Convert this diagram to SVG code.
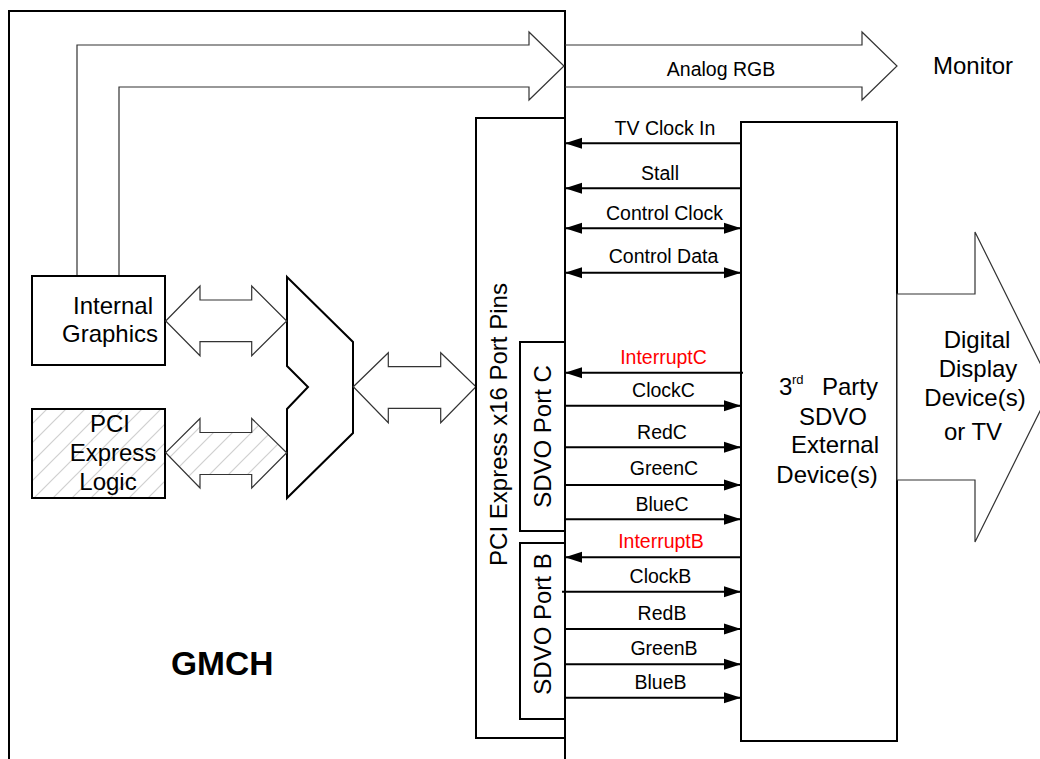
<svg xmlns="http://www.w3.org/2000/svg" width="1040" height="759" viewBox="0 0 1040 759">
<style>
text{font-family:"Liberation Sans",Arial,sans-serif;fill:#000}
.lbl{font-size:19.5px;text-anchor:middle}
.big{font-size:24px}
.red{fill:#ff0000}
.box{fill:#fff;stroke:#000;stroke-width:2}
.hollow{fill:#fff;stroke:#333;stroke-width:1.2}
.open{fill:none;stroke:#333;stroke-width:1.2}
.sig{stroke:#000;stroke-width:2;fill:none}
</style>
<defs>
<marker id="ah" markerUnits="userSpaceOnUse" markerWidth="17" markerHeight="12" refX="17" refY="6" orient="auto-start-reverse" viewBox="0 0 17 12">
<path d="M0,0.5 L17,6 L0,11.5 z" fill="#000"/>
</marker>
<pattern id="hatch" patternUnits="userSpaceOnUse" width="19" height="19">
<rect width="19" height="19" fill="#fff"/>
<path d="M-1,20 L20,-1 M-5,5 L5,-5 M14,24 L24,14" stroke="#d0d0d0" stroke-width="1.2"/>
</pattern>
</defs>

<g id="gmch">
<rect x="9" y="11" width="556" height="770" fill="#fff" stroke="#000" stroke-width="2"/>
<text x="171" y="675" font-size="33.5" font-weight="bold">GMCH</text>
</g>

<g id="analog-rgb">
<path class="open" d="M77,277 V45 H529 V32 L564,66 L529,100 V87 H119 V277"/>
<path class="open" d="M565,45 H862 V32 L897,66 L862,100 V87 H565"/>
<text class="lbl" x="721" y="76">Analog RGB</text>
</g>

<g id="monitor">
<text class="big" x="933" y="74">Monitor</text>
</g>

<g id="internal-graphics">
<rect class="box" x="32" y="276" width="133" height="89"/>
<text class="big" x="73" y="314">Internal</text>
<text class="big" x="62" y="342">Graphics</text>
</g>

<g id="pci-express-logic">
<rect x="32" y="409" width="133" height="89" fill="url(#hatch)" stroke="#000" stroke-width="2"/>
<text class="big" x="110" y="432" text-anchor="middle">PCI</text>
<text class="big" x="113" y="461" text-anchor="middle">Express</text>
<text class="big" x="108" y="490" text-anchor="middle">Logic</text>
</g>

<g id="mux">
<path d="M287,277 L353,342 L353,433 L287,498 L287,409 L308,387 L287,366 Z" fill="#fff" stroke="#000" stroke-width="2"/>
</g>

<g id="bus-arrows">
<polygon class="hollow" points="165.7,321 200,286 200,300 251.7,300 251.7,286 286.7,321 251.7,355.7 251.7,341.7 200,341.7 200,355.7"/>
<polygon points="165.7,452.7 200,418.5 200,432.5 251.7,432.5 251.7,418.5 286.7,452.7 251.7,488 251.7,474.5 200,474.5 200,488" fill="url(#hatch)" stroke="#333" stroke-width="1.2"/>
<polygon class="hollow" points="353.3,386.7 388.3,352.7 388.3,366.7 440.7,366.7 440.7,352.7 476,386.7 440.7,422.7 440.7,408.3 388.3,408.3 388.3,422.7"/>
</g>

<g id="pci-port-pins">
<rect class="box" x="476" y="118" width="89" height="620"/>
<text class="big" transform="translate(507,424.5) rotate(-90)" text-anchor="middle">PCI Express x16 Port Pins</text>
</g>

<g id="sdvo-port-c">
<rect class="box" x="520" y="342" width="45" height="189"/>
<text class="big" transform="translate(551,436.5) rotate(-90)" text-anchor="middle">SDVO Port C</text>
</g>

<g id="sdvo-port-b">
<rect class="box" x="520" y="543" width="45" height="176"/>
<text class="big" transform="translate(551,624) rotate(-90)" text-anchor="middle">SDVO Port B</text>
</g>

<g id="sdvo-device">
<rect class="box" x="741" y="122" width="156" height="619"/>
<text class="big" x="779" y="395">3</text>
<text x="792" y="384" font-size="13">rd</text>
<text class="big" x="822" y="395">Party</text>
<text class="big" x="833" y="425" text-anchor="middle">SDVO</text>
<text class="big" x="835" y="453" text-anchor="middle">External</text>
<text class="big" x="827" y="483" text-anchor="middle">Device(s)</text>
</g>

<g id="digital-display">
<polygon class="hollow" points="897,294 975,294 975,232 1052,387 975,542 975,480 897,480"/>
<text class="big" x="977" y="348" text-anchor="middle">Digital</text>
<text class="big" x="978" y="377" text-anchor="middle">Display</text>
<text class="big" x="975" y="406" text-anchor="middle">Device(s)</text>
<text class="big" x="973" y="440" text-anchor="middle">or TV</text>
</g>

<g id="connectors">
<path class="sig" d="M741,143.3 H565" marker-end="url(#ah)"/>
<path class="sig" d="M741,188.3 H565" marker-end="url(#ah)"/>
<path class="sig" d="M565,228.3 H741" marker-start="url(#ah)" marker-end="url(#ah)"/>
<path class="sig" d="M565,272.7 H741" marker-start="url(#ah)" marker-end="url(#ah)"/>
<path class="sig" d="M743,372.7 H565" marker-end="url(#ah)"/>
<path class="sig" d="M565,405.7 H741" marker-end="url(#ah)"/>
<path class="sig" d="M565,447.3 H741" marker-end="url(#ah)"/>
<path class="sig" d="M565,485 H741" marker-end="url(#ah)"/>
<path class="sig" d="M565,519.3 H741" marker-end="url(#ah)"/>
<path class="sig" d="M741,557.3 H565" marker-end="url(#ah)"/>
<path class="sig" d="M562,591.7 H741" marker-end="url(#ah)"/>
<path class="sig" d="M565,629 H741" marker-end="url(#ah)"/>
<path class="sig" d="M565,664.3 H741" marker-end="url(#ah)"/>
<path class="sig" d="M565,697.7 H741" marker-end="url(#ah)"/>
<text class="lbl" x="665" y="135">TV Clock In</text>
<text class="lbl" x="660" y="180">Stall</text>
<text class="lbl" x="664.5" y="220">Control Clock</text>
<text class="lbl" x="663.5" y="263">Control Data</text>
<text class="lbl red" x="663.5" y="364">InterruptC</text>
<text class="lbl" x="663.5" y="397">ClockC</text>
<text class="lbl" x="662" y="439">RedC</text>
<text class="lbl" x="664" y="475">GreenC</text>
<text class="lbl" x="662" y="511">BlueC</text>
<text class="lbl red" x="661" y="547.5">InterruptB</text>
<text class="lbl" x="660.5" y="583">ClockB</text>
<text class="lbl" x="662" y="620">RedB</text>
<text class="lbl" x="664" y="655">GreenB</text>
<text class="lbl" x="660.5" y="688.5">BlueB</text>
</g>
</svg>
